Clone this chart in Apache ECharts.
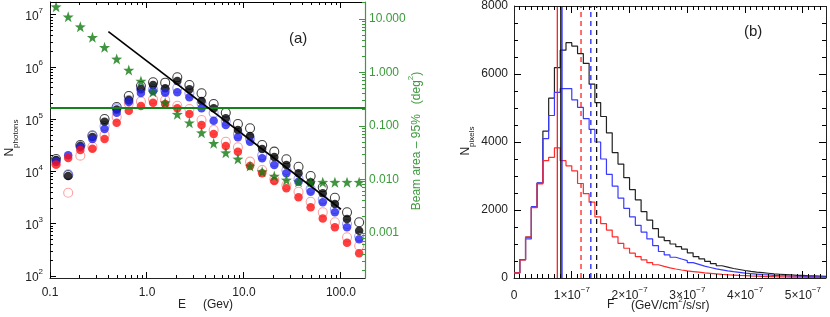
<!DOCTYPE html>
<html><head><meta charset="utf-8">
<script src="https://cdn.jsdelivr.net/npm/echarts@6/dist/echarts.min.js"></script>
<style>html,body{margin:0;padding:0;background:#fff}#c{width:830px;height:317px}</style>
</head><body><div id="c"></div>
<script>
// ---------- Panel (a) data ----------
const energyGeV = [0.1155,0.1540,0.2054,0.2738,0.3652,0.4870,0.6494,0.8660,1.155,1.540,2.054,2.738,3.652,4.870,6.494,8.660,11.55,15.40,20.54,27.38,36.52,48.70,64.94,86.60,115.5,154.0];
const nBlackFilled = [16700,8240,30900,46000,90400,155000,235000,382000,456000,395000,544000,377000,225000,163000,105000,62700,48000,27000,19100,13400,9280,6240,3840,2390,1240,738];
const nBlackOpen   = [17400,8610,32300,48800,102000,173000,281000,436000,514000,505000,641000,456000,316000,197000,134000,81700,67600,32300,24100,17200,12400,8240,5000,3160,1660,1070];
const nBlueFilled  = [15300,20500,29600,42100,65500,134000,215000,320000,350000,325000,330000,265000,163000,94500,78100,45400,37400,18000,13400,9280,6410,4120,2580,1660,857,505];
const nBlueOpen    = [16000,8880,30900,48800,74800,163000,235000,382000,377000,366000,400000,320000,206000,133000,93000,52500,42700,20500,15300,10600,7310,4700,2940,1900,991,577];
const nRedFilled   = [13700,18200,25900,27500,42100,86500,147000,181000,209000,197000,163000,127000,78100,52500,30900,24100,12800,9280,6610,4790,3220,2070,1270,857,434,272];
const nRedOpen     = [14000,3940,20200,30000,50300,111000,202000,220000,243000,235000,183000,158000,97500,62700,37400,29200,15500,10700,7120,5540,4120,2650,1660,1070,551,380];
const beamArea95   = [17.0,11.0,7.18,4.55,2.96,1.79,1.11,0.693,0.433,0.273,0.166,0.115,0.0750,0.0475,0.0317,0.0242,0.0179,0.0140,0.0116,0.0098,0.0091,0.0089,0.0089,0.0089,0.0089,0.0089];
const fitE = [0.4, 100];
const fitN = [4.8e6, 1.9e3];
const beamLevel = 0.215;
const xTickLabelsA = ['0.1','1.0','10.0','100.0'];
const rightTickLabelsA = ['0.001','0.010','0.100','1.000','10.000'];

// ---------- Panel (b) data ----------
const binWidth = 1e-8;
const histBlack = [150,540,1200,2080,2790,4320,5290,6190,6700,6920,6820,6600,6310,5700,5160,4750,4270,3690,3350,2950,2600,2300,1950,1700,1450,1200,1100,1000,920,850,740,630,560,490,420,360,320,280,250,220,195,175,160,140,120,110,100,90,80,75,65,60,55,50];
const histBlue  = [150,540,1150,2100,2800,4100,4780,5460,5570,5570,5240,5020,4690,4370,4000,3500,3050,2700,2350,2050,1800,1550,1350,1150,950,780,680,610,560,510,450,400,350,310,270,240,210,185,165,145,130,115,100,90,80,72,65,58,52,47,42,38,34,30];
const histRed   = [150,530,1200,2070,2770,3450,3550,3830,3450,3300,3150,2780,2480,2230,1800,1600,1410,1210,1020,875,730,630,535,450,390,340,300,265,235,210,190,170,150,135,120,105,95,85,75,68,60,54,48,43,38,34,30,27,24,22,20,18,16,15];
const solidLines  = {red: 7.5e-8, black: 8.1e-8, blue: 8.3e-8};
const dashedLines = {red: 1.16e-7, black: 1.43e-7, blue: 1.33e-7};
const xTickLabelsB = ['0','1','2','3','4','5'];

// ---------- geometry / style ----------
const FONT = 'Liberation Sans, Arial, sans-serif';
const INK = '#222';
const TICK = '#000';
const GREEN_AX = '#3c9a3c';
const GREEN_STAR = '#127a12';
const xMinA = 0.1, xMaxA = 177;
const yMinA = 91.6, yMaxA = 1.774e7;
const y2MinA = 1.445e-4, y2MaxA = 20.8;
const xMaxB = 5.4e-7, yMaxB = 8000;
const L = Math.log10;

const supRich = () => ({
  b:{fontSize:12, fontFamily:FONT, lineHeight:16, verticalAlign:'bottom'},
  sup:{fontSize:8, fontFamily:FONT, lineHeight:9, verticalAlign:'top'}
});
const majorBX = xTickLabelsB.map((s, i) => i * 1e-7);

const pairs = arr => energyGeV.map((e, i) => [e, arr[i]]);
function circles(name, arr, color, open, z) {
  return {
    name, type:'scatter', xAxisIndex:0, yAxisIndex:0, data:pairs(arr), symbol:'circle',
    symbolSize: open ? 9 : 8.5, z:z, silent:true,
    itemStyle: open ? {color:'rgba(0,0,0,0)', borderColor:color, borderWidth:1.1}
                    : {color:color, borderWidth:0}
  };
}
const STAR = 'path://M0,-10L2.35,-3.24L9.51,-3.09L3.8,1.24L5.88,8.09L0,4L-5.88,8.09L-3.8,1.24L-9.51,-3.09L-2.35,-3.24Z';

function histSeries(name, counts, color) {
  const data = counts.map((c, i) => [i * binWidth, c]);
  data.push([counts.length * binWidth, counts[counts.length - 1]]);
  return {name, type:'line', xAxisIndex:1, yAxisIndex:2, step:'end', data, symbol:'none',
    lineStyle:{color:color, width:1.2}, silent:true, z:3};
}
function vLine(x, color, dashed) {
  return {type:'line', xAxisIndex:1, yAxisIndex:2, data:[[x, 0], [x, yMaxB]], symbol:'none', silent:true, z:4,
    lineStyle:{color:color, width:1.3, type: dashed ? [5, 4] : 'solid'}};
}

const option = {
  animation:false,
  backgroundColor:'#fff',
  grid:[
    {left:50, top:2, width:315, height:276, containLabel:false},
    {left:514, top:4, width:312, height:274, containLabel:false}
  ],
  xAxis:[
    {type:'log', logBase:10, gridIndex:0, position:'bottom', min:xMinA, max:xMaxA,
     axisLine:{show:true, onZero:false, lineStyle:{color:INK}}, axisTick:{show:false}, splitLine:{show:false},
     axisLabel:{fontSize:12, fontFamily:FONT, color:INK, margin:9, showMaxLabel:false,
       formatter:v => { const k = Math.round(L(v)) + 1; return (Math.abs(L(v) - Math.round(L(v))) < 1e-6 && xTickLabelsA[k]) ? xTickLabelsA[k] : ''; }}},
    {type:'value', gridIndex:1, position:'bottom', min:0, max:xMaxB,
     axisLine:{show:true, onZero:false, lineStyle:{color:INK}}, splitLine:{show:false}, axisTick:{show:false},
     axisLabel:{customValues:majorBX, fontSize:12, fontFamily:FONT, color:INK, margin:8, rich:supRich(),
       formatter:v => { const k = Math.round(v * 1e7); return k === 0 ? '{b|0}' : '{b|' + xTickLabelsB[k] + '×10}{sup|−7}'; }}}
  ],
  yAxis:[
    {type:'log', logBase:10, gridIndex:0, position:'left', min:yMinA, max:yMaxA,
     axisLine:{show:true, onZero:false, lineStyle:{color:INK}}, axisTick:{show:false}, splitLine:{show:false},
     axisLabel:{fontSize:12, fontFamily:FONT, color:INK, margin:7, showMinLabel:false, showMaxLabel:false, rich:supRich(),
       formatter:v => { const e = L(v); return Math.abs(e - Math.round(e)) < 1e-6 ? '{b|10}{sup|' + Math.round(e) + '}' : ''; }}},
    {type:'log', logBase:10, gridIndex:0, position:'right', min:y2MinA, max:y2MaxA,
     axisLine:{show:true, onZero:false, lineStyle:{color:GREEN_AX, width:1.2}}, axisTick:{show:false}, splitLine:{show:false},
     axisLabel:{fontSize:12, fontFamily:FONT, color:GREEN_AX, margin:4, showMinLabel:false, showMaxLabel:false,
       formatter:v => { const e = L(v); const k = Math.round(e) + 3; return (Math.abs(e - Math.round(e)) < 1e-6 && rightTickLabelsA[k]) ? rightTickLabelsA[k] : ''; }}},
    {type:'value', gridIndex:1, position:'left', min:0, max:yMaxB, interval:2000,
     axisLine:{show:true, onZero:false, lineStyle:{color:INK}}, splitLine:{show:false}, axisTick:{show:false},
     axisLabel:{fontSize:12, fontFamily:FONT, color:INK, margin:6, formatter:v => String(v)}}
  ],
  series:[
    circles('black open', nBlackOpen, '#111', true, 2),
    circles('blue open', nBlueOpen, '#8a8aff', true, 2),
    circles('red open', nRedOpen, '#ff8a8a', true, 2),
    circles('black', nBlackFilled, '#000', false, 3),
    circles('blue', nBlueFilled, '#2020f0', false, 3),
    circles('red', nRedFilled, '#ff1010', false, 3),
    {name:'beam', type:'scatter', xAxisIndex:0, yAxisIndex:1, data:energyGeV.map((e, i) => [e, beamArea95[i]]),
     symbol:STAR, symbolSize:11, itemStyle:{color:GREEN_STAR}, z:4, silent:true,
     markLine:{silent:true, symbol:['none','none'], label:{show:false}, animation:false, precision:6,
       lineStyle:{color:'#13841a', width:2, type:'solid'}, data:[{yAxis:beamLevel}]}},
    {name:'fit', type:'line', xAxisIndex:0, yAxisIndex:0, data:fitE.map((e, i) => [e, fitN[i]]),
     symbol:'none', lineStyle:{color:'#000', width:1.6}, z:5, silent:true},
    histSeries('all', histBlack, '#222'),
    histSeries('mid', histBlue, '#3a3aff'),
    histSeries('low', histRed, '#ff2a2a'),
    vLine(solidLines.red, '#ff2020', false),
    vLine(solidLines.black, '#111', false),
    vLine(solidLines.blue, '#2020ff', false),
    vLine(dashedLines.red, '#ff2020', true),
    vLine(dashedLines.blue, '#2020ff', true),
    vLine(dashedLines.black, '#111', true)
  ]
};

const texts = [
  {type:'text', left:289, top:31, style:{text:'(a)', fontSize:15, fontFamily:FONT, fill:INK}},
  {type:'text', left:744, top:24, style:{text:'(b)', fontSize:15, fontFamily:FONT, fill:INK}},
  {type:'text', x:178, y:305, style:{text:'E', fontSize:12, fontFamily:FONT, fill:INK, verticalAlign:'middle'}},
  {type:'text', x:203, y:305, style:{text:'(Gev)', fontSize:12, fontFamily:FONT, fill:INK, verticalAlign:'middle'}},
  {type:'text', x:607, y:305, style:{text:'F', fontSize:12, fontFamily:FONT, fill:INK, verticalAlign:'middle'}},
  {type:'text', x:631, y:304, style:{text:'{b|(GeV/cm}{sup|2}{b|/s/sr)}', rich:supRich(), fill:INK, verticalAlign:'middle'}},
  {type:'text', x:12, y:138, rotation:Math.PI / 2,
   style:{text:'{n|N}{s|photons}', align:'center', verticalAlign:'middle', fill:INK,
     rich:{n:{fontSize:12, fontFamily:FONT, lineHeight:16, verticalAlign:'top'}, s:{fontSize:8, fontFamily:FONT, lineHeight:9, verticalAlign:'bottom'}}}},
  {type:'text', x:468, y:141, rotation:Math.PI / 2,
   style:{text:'{n|N}{s|pixels}', align:'center', verticalAlign:'middle', fill:INK,
     rich:{n:{fontSize:12, fontFamily:FONT, lineHeight:16, verticalAlign:'top'}, s:{fontSize:8, fontFamily:FONT, lineHeight:9, verticalAlign:'bottom'}}}},
  {type:'text', x:415, y:141, rotation:Math.PI / 2,
   style:{text:'{b|Beam area – 95%   (deg}{sup|2}{b|)}', align:'center', verticalAlign:'middle', fill:GREEN_AX,
     rich:{b:{fontSize:12, fontFamily:FONT, lineHeight:16, verticalAlign:'bottom', color:GREEN_AX}, sup:{fontSize:8, fontFamily:FONT, lineHeight:9, verticalAlign:'top', color:GREEN_AX}}}}
];

const chart = echarts.init(document.getElementById('c'), null, {renderer:'canvas'});
chart.setOption(option);

// ---------- frame and tick marks, placed through the axes' own scales ----------
function px(dim, idx, v) {
  let p = chart.convertToPixel(dim === 'x' ? {xAxisIndex:idx} : {yAxisIndex:idx}, v);
  if (Array.isArray(p)) p = p[dim === 'x' ? 0 : 1];
  if (!isFinite(p)) {
    const axis = chart.getModel().getComponent(dim + 'Axis', idx).axis;
    p = axis.toGlobalCoord(axis.dataToCoord(v));
  }
  return p;
}
const snap = v => Math.round(v - 0.5) + 0.5;
const deco = [];
function seg(x1, y1, x2, y2, color) {
  if (![x1, y1, x2, y2].every(isFinite)) return;
  deco.push({type:'line', silent:true, z:100, shape:{x1:x1, y1:y1, x2:x2, y2:y2}, style:{stroke:color, lineWidth:1, fill:null}});
}
function logVals(lo, hi, minor) {
  const out = [];
  for (let d = Math.floor(L(lo)) - 1; d <= Math.ceil(L(hi)) + 1; d++) {
    const ms = minor ? [2,3,4,5,6,7,8,9] : [1];
    ms.forEach(m => { const v = m * Math.pow(10, d); if (v >= lo * 0.9999 && v <= hi * 1.0001) out.push(v); });
  }
  return out;
}
// panel (a)
const aL = px('x', 0, xMinA), aR = px('x', 0, xMaxA), aT = px('y', 0, yMaxA), aB = px('y', 0, yMinA);
seg(aL, snap(aT), aR, snap(aT), TICK);
[[false, 6], [true, 3]].forEach(([minor, len]) => {
  logVals(xMinA, xMaxA, minor).forEach(v => { const x = snap(px('x', 0, v)); seg(x, aB, x, aB - len, TICK); seg(x, aT, x, aT + len, TICK); });
  logVals(yMinA, yMaxA, minor).forEach(v => { const y = snap(px('y', 0, v)); seg(aL, y, aL + len, y, TICK); });
  logVals(y2MinA, y2MaxA, minor).forEach(v => { const y = snap(px('y', 1, v)); seg(aR, y, aR - len, y, GREEN_AX); });
});
// panel (b)
const bL = px('x', 1, 0), bR = px('x', 1, xMaxB), bT = px('y', 2, yMaxB), bB = px('y', 2, 0);
seg(bL, snap(bT), bR, snap(bT), INK);
seg(snap(bR), bT, snap(bR), bB, INK);
for (let i = 1; i * binWidth < xMaxB * 0.9999; i++) {
  const len = i % 10 ? 4 : 7, x = snap(px('x', 1, i * binWidth));
  seg(x, bB, x, bB - len, TICK); seg(x, bT, x, bT + len, TICK);
}
for (let v = 500; v < yMaxB; v += 500) {
  const len = v % 2000 ? 4 : 7, y = snap(px('y', 2, v));
  seg(bL, y, bL + len, y, TICK); seg(bR, y, bR - len, y, TICK);
}
chart.setOption({graphic: texts.concat(deco)});
</script>
</body></html>
